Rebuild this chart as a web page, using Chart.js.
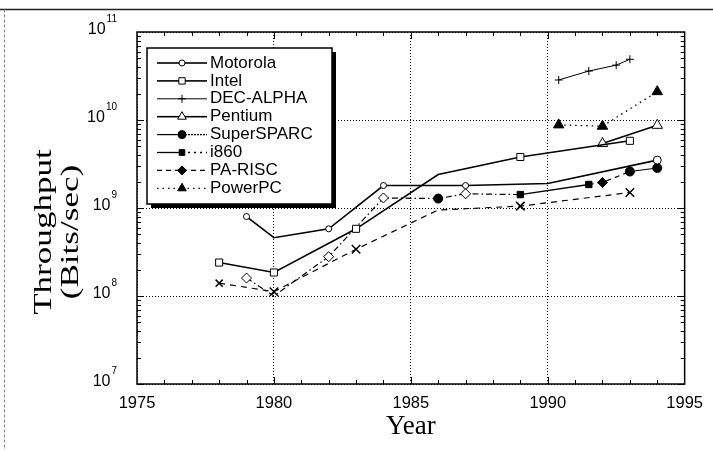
<!DOCTYPE html>
<html>
<head>
<meta charset="utf-8">
<script src="https://cdn.jsdelivr.net/npm/chart.js@4.4.1/dist/chart.umd.min.js"></script>
<style>
  html, body { margin: 0; padding: 0; background: #fff; }
</style>
</head>
<body>
<canvas id="myChart" width="713" height="450"></canvas>
<script>
// values (throughput in bits/sec, log scale)
const motorolaYears = [1979, 1980, 1982, 1984, 1987, 1990, 1994];
const motorolaBps = [8.0e8, 4.6e8, 5.8e8, 1.8e9, 1.8e9, 1.9e9, 3.5e9];

const intelYears = [1978, 1980, 1983, 1986, 1989, 1993];
const intelBps = [2.4e8, 1.85e8, 5.8e8, 2.4e9, 3.8e9, 5.8e9];

const decAlphaYears = [1990.4, 1991.5, 1992.5, 1993];
const decAlphaBps = [2.85e10, 3.6e10, 4.2e10, 4.9e10];

const pentiumYears = [1992, 1994];
const pentiumBps = [5.4e9, 8.7e9];

const superSparcYears = [1993, 1994];
const superSparcBps = [2.6e9, 2.85e9];

const i860Years = [1989, 1991.5];
const i860Bps = [1.42e9, 1.85e9];

const paRiscYears = [1991.5, 1992, 1993];
const paRiscBps = [1.85e9, 1.95e9, 2.6e9];

const powerPcYears = [1990.4, 1992, 1994];
const powerPcBps = [8.8e9, 8.5e9, 2.1e10];

// two unlabelled series in the figure (open diamonds, crosses)
const diamondYears = [1979, 1980, 1982, 1984, 1986, 1987, 1989];
const diamondBps = [1.6e8, 1.0e8, 2.8e8, 1.3e9, 1.28e9, 1.45e9, 1.42e9];

const crossYears = [1978, 1980, 1983, 1986, 1989, 1993];
const crossBps = [1.4e8, 1.12e8, 3.4e8, 9.5e8, 1.05e9, 1.5e9];

const xTickYears = [1975, 1980, 1985, 1990, 1995];
const yTickValues = [1e7, 1e8, 1e9, 1e10, 1e11];
const yTickExponents = ['7', '8', '9', '10', '11'];
const yTitleLines = ['Throughput', '(Bits/sec)'];

function pts(xs, ys) {
  return xs.map((v, i) => ({ x: v, y: ys[i] }));
}

const SANS = '"Liberation Sans", Arial, sans-serif';
const SERIF = '"Liberation Serif", "Times New Roman", serif';

// frame, inward ticks, y labels with exponents, y title, boxed legend
const decorations = {
  id: 'decorations',
  beforeDraw(chart) {
    const ctx = chart.ctx;
    ctx.save();
    ctx.fillStyle = '#fff';
    ctx.fillRect(0, 0, chart.width, chart.height);
    ctx.strokeStyle = '#222';
    ctx.lineWidth = 1.5;
    ctx.beginPath();
    ctx.moveTo(0, 9.5);
    ctx.lineTo(chart.width, 9.5);
    ctx.stroke();
    ctx.strokeStyle = '#888';
    ctx.lineWidth = 1;
    ctx.setLineDash([3, 2]);
    ctx.beginPath();
    ctx.moveTo(4.5, 9.5);
    ctx.lineTo(4.5, chart.height);
    ctx.stroke();
    ctx.restore();
  },
  afterDraw(chart) {
    const { ctx, chartArea: a, scales: { x, y } } = chart;
    ctx.save();
    ctx.setLineDash([]);
    ctx.strokeStyle = '#000';

    // minor ticks
    ctx.lineWidth = 1;
    ctx.beginPath();
    for (let yr = 1976; yr < 1995; yr++) {
      const px = Math.round(x.getPixelForValue(yr)) + 0.5;
      const len = yr % 5 === 0 ? 7 : 4;
      ctx.moveTo(px, a.bottom);
      ctx.lineTo(px, a.bottom - len);
      ctx.moveTo(px, a.top);
      ctx.lineTo(px, a.top + len);
    }
    for (let e = 7; e < 11; e++) {
      for (let m = 1; m < 10; m++) {
        const py = Math.round(y.getPixelForValue(m * Math.pow(10, e))) + 0.5;
        const len = m === 1 ? 7 : 4;
        ctx.moveTo(a.left, py);
        ctx.lineTo(a.left + len, py);
        ctx.moveTo(a.right, py);
        ctx.lineTo(a.right - len, py);
      }
    }
    ctx.stroke();

    // plot frame
    ctx.lineWidth = 1.5;
    ctx.strokeRect(a.left, a.top, a.right - a.left, a.bottom - a.top);

    // y tick labels: 10 with raised exponent
    ctx.fillStyle = '#000';
    ctx.textBaseline = 'alphabetic';
    ctx.textAlign = 'left';
    yTickValues.forEach((v, i) => {
      const py = y.getPixelForValue(v);
      const ex = yTickExponents[i];
      ctx.font = '10px ' + SANS;
      const ew = ctx.measureText(ex).width;
      ctx.font = '16px ' + SANS;
      const bw = ctx.measureText('10').width;
      const xr = 117;
      ctx.fillText('10', xr - ew - bw - 1, py + 1.5);
      ctx.font = '10px ' + SANS;
      ctx.fillText(ex, xr - ew, py - 10);
    });

    // y title, stretched along its length like the scanned figure
    ctx.font = '26px ' + SERIF;
    ctx.textAlign = 'center';
    ctx.textBaseline = 'middle';
    yTitleLines.forEach((t, i) => {
      ctx.save();
      ctx.translate(44 + i * 27, 232);
      ctx.rotate(-Math.PI / 2);
      ctx.scale(1.35, 1);
      ctx.fillText(t, 0, 0);
      ctx.restore();
    });

    // legend box with drop shadow
    const bx = a.left + 10, by = a.top + 16, bw = 185, bh = 156;
    ctx.fillStyle = '#000';
    ctx.fillRect(bx + 4, by + 4, bw, bh);
    ctx.fillStyle = '#fff';
    ctx.fillRect(bx, by, bw, bh);
    ctx.lineWidth = 1.5;
    ctx.strokeRect(bx, by, bw, bh);

    const items = chart.data.datasets.filter(d => !d.legendHidden);
    ctx.font = '17px ' + SANS;
    ctx.textAlign = 'left';
    ctx.textBaseline = 'middle';
    items.forEach((d, i) => {
      const ry = by + 15 + i * 17.9;
      const x0 = bx + 10, xm = bx + 35, x1 = bx + 60;
      ctx.strokeStyle = '#000';
      ctx.lineWidth = d.borderWidth;
      ctx.setLineDash(d.legendDashLeft || d.borderDash || []);
      ctx.beginPath();
      ctx.moveTo(x0, ry);
      ctx.lineTo(xm, ry);
      ctx.stroke();
      ctx.setLineDash(d.legendDashRight || d.borderDash || []);
      ctx.beginPath();
      ctx.moveTo(xm, ry);
      ctx.lineTo(x1, ry);
      ctx.stroke();
      ctx.setLineDash([]);
      ctx.fillStyle = d.pointBackgroundColor;
      ctx.lineWidth = 1;
      if (Chart.helpers && Chart.helpers.drawPoint) {
        Chart.helpers.drawPoint(ctx, {
          pointStyle: d.pointStyle,
          radius: d.legendRadius,
          rotation: 0,
          borderWidth: 1
        }, xm, ry);
      }
      ctx.fillStyle = '#000';
      ctx.fillText(d.label, x1 + 3, ry);
    });
    ctx.restore();
  }
};

const datasets = [
  {
    label: 'Motorola',
    data: pts(motorolaYears, motorolaBps),
    borderWidth: 1.6,
    pointStyle: 'circle',
    pointRadius: [3, 0, 3, 3, 3, 0, 4],
    pointBackgroundColor: '#fff',
    legendRadius: 3
  },
  {
    label: 'Intel',
    data: pts(intelYears, intelBps),
    borderWidth: 1.6,
    pointStyle: 'rect',
    pointRadius: [5, 5, 5, 0, 5, 5],
    pointBackgroundColor: '#fff',
    legendRadius: 4.5
  },
  {
    label: 'DEC-ALPHA',
    data: pts(decAlphaYears, decAlphaBps),
    borderWidth: 1,
    pointStyle: 'cross',
    pointRadius: 4,
    pointBackgroundColor: '#000',
    legendRadius: 4
  },
  {
    label: 'Pentium',
    data: pts(pentiumYears, pentiumBps),
    borderWidth: 1.6,
    pointStyle: 'triangle',
    pointRadius: 6,
    pointBackgroundColor: '#fff',
    legendRadius: 5
  },
  {
    label: 'SuperSPARC',
    data: pts(superSparcYears, superSparcBps),
    borderWidth: 1.2,
    pointStyle: 'circle',
    pointRadius: 4.5,
    pointBackgroundColor: '#000',
    legendDashRight: [2, 1],
    legendRadius: 4
  },
  {
    label: 'i860',
    data: pts(i860Years, i860Bps),
    borderWidth: 1.3,
    pointStyle: 'rect',
    pointRadius: 4.5,
    pointBackgroundColor: '#000',
    legendDashRight: [2, 4],
    legendRadius: 4
  },
  {
    label: 'PA-RISC',
    data: pts(paRiscYears, paRiscBps),
    borderWidth: 1.2,
    borderDash: [5, 4],
    pointStyle: 'rectRot',
    pointRadius: [0, 5, 0],
    pointBackgroundColor: '#000',
    legendRadius: 4.5
  },
  {
    label: 'PowerPC',
    data: pts(powerPcYears, powerPcBps),
    borderWidth: 1.3,
    borderDash: [1.5, 4],
    pointStyle: 'triangle',
    pointRadius: 6,
    pointBackgroundColor: '#000',
    legendRadius: 5
  },
  {
    label: 'SPARC',
    legendHidden: true,
    data: pts(diamondYears, diamondBps),
    borderWidth: 1.2,
    borderDash: [6, 3, 1.5, 3],
    pointStyle: ['rectRot', 'rectRot', 'rectRot', 'rectRot', 'circle', 'rectRot', 'rectRot'],
    pointRadius: [5, 0, 5, 5, 4.5, 5, 0],
    pointBackgroundColor: ['#fff', '#fff', '#fff', '#fff', '#000', '#fff', '#fff']
  },
  {
    label: 'MIPS',
    legendHidden: true,
    data: pts(crossYears, crossBps),
    borderWidth: 1.2,
    borderDash: [6, 5],
    pointStyle: 'crossRot',
    pointRadius: [5, 6, 6, 0, 6, 6],
    pointBorderWidth: 1.5,
    pointBackgroundColor: '#000'
  }
];

datasets.forEach(d => {
  d.borderColor = '#000';
  d.pointBorderColor = '#000';
  if (d.pointBorderWidth === undefined) d.pointBorderWidth = 1;
  d.tension = 0;
  d.fill = false;
});

const myChart = new Chart(document.getElementById('myChart'), {
  type: 'line',
  data: { datasets: datasets },
  plugins: [decorations],
  options: {
    responsive: false,
    animation: false,
    layout: { padding: { left: 0, right: 27, top: 32, bottom: 0 } },
    plugins: {
      legend: { display: false },
      tooltip: { enabled: false }
    },
    scales: {
      x: {
        type: 'linear',
        min: 1975,
        max: 1995,
        afterBuildTicks: s => { s.ticks = xTickYears.map(v => ({ value: v })); },
        afterFit: s => { s.height = 66; },
        ticks: {
          color: '#000',
          font: { family: SANS, size: 16.5 },
          padding: 10,
          maxRotation: 0,
          callback: v => String(v)
        },
        grid: { color: '#000', lineWidth: 1, drawTicks: false },
        border: { display: false, dash: [1, 2] },
        title: {
          display: true,
          text: 'Year',
          color: '#000',
          font: { family: SERIF, size: 27, lineHeight: 1 },
          padding: { top: 0, bottom: 10 }
        }
      },
      y: {
        type: 'logarithmic',
        min: 1e7,
        max: 1e11,
        afterBuildTicks: s => { s.ticks = yTickValues.map(v => ({ value: v })); },
        afterFit: s => { s.width = 137; },
        ticks: { display: false },
        grid: { color: '#000', lineWidth: 1, drawTicks: false },
        border: { display: false, dash: [1, 2] },
        title: { display: false }
      }
    }
  }
});
</script>
</body>
</html>
